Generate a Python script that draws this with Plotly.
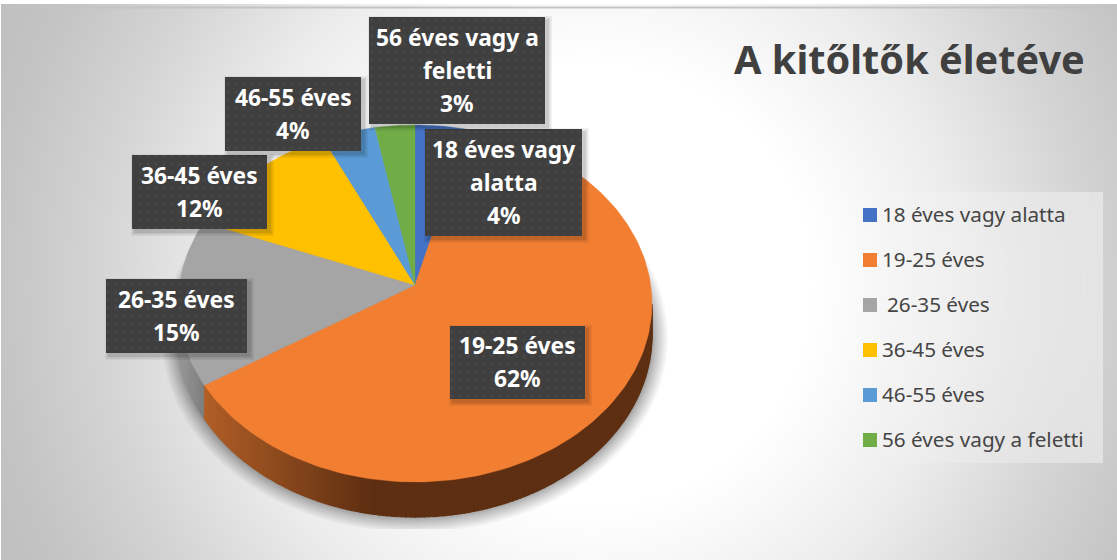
import numpy as np
import plotly.graph_objects as go

# Survey result: respondents by age group
categories = ["18 éves vagy alatta", "19-25 éves", "26-35 éves", "36-45 éves", "46-55 éves", "56 éves vagy a feletti"]
shares = [4, 62, 15, 12, 4, 3]
colors = ["#4472C4", "#F27E32", "#A5A5A5", "#FFC000", "#5B9BD5", "#70AD47"]
title_text = "A kitőltők életéve"
label_lines = [["18 éves vagy", "alatta"], ["19-25 éves"], ["26-35 éves"], ["36-45 éves"], ["46-55 éves"], ["56 éves vagy a", "feletti"]]
# label boxes: left, right, top, bottom in pixels
label_boxes = [(425, 582, 129, 236), (450, 585, 326, 399), (106, 247, 279, 353),
               (132, 267, 155, 229), (225, 361, 77, 151), (369, 545, 17, 124)]

W, H = 1117, 560
FONT = "Noto Sans"

# tilted disc projection
CX, CY, A, B, K = 415.0, 285.0, 235.7, 176.6, 0.1036
DEPTH = 31.4


def rim(theta):
    X, Y = np.sin(theta), np.cos(theta)
    w = 1 + K * Y
    return CX + A * X / w, CY - B * Y / w, w


def lerp(c0, c1, t):
    t = float(np.clip(t, 0, 1))
    return "rgb(%d,%d,%d)" % tuple(round(a + (b - a) * t) for a, b in zip(c0, c1))


fig = go.Figure()

# backdrop radial gradient
gx = np.linspace(5, W, 140)
gy = np.linspace(8, H, 70)
xx, yy = np.meshgrid(gx, gy)
dist = np.hypot(xx - 590, yy - 285)
shade = np.interp(dist, [0, 220, 270, 368, 492, 600, 700], [255, 255, 249, 236, 212, 195, 188])
fig.add_trace(go.Heatmap(x=gx, y=gy, z=shade, zmin=0, zmax=255, zsmooth="best", showscale=False,
                         colorscale=[[0, "#000000"], [1, "#ffffff"]], hoverinfo="skip"))

# soft shadow beneath the disc, denser towards the rim
ang = np.linspace(0, 2 * np.pi, 180)
for grow in 16 * np.linspace(1, 0, 16) ** 1.4:
    sx = 415 + (237 + grow) * np.sin(ang)
    sy = np.minimum(338 + (178.5 + grow) * np.cos(ang), 529)
    fig.add_trace(go.Scatter(x=sx, y=sy, mode="lines", line_width=0, fill="toself",
                             fillcolor="rgba(0,0,0,0.028)", hoverinfo="skip", showlegend=False))

# side wall, shaded along the rim
edges = np.cumsum([0] + shares) / sum(shares) * 2 * np.pi
wall_steps = np.radians(np.arange(96, 266, 1.0))
for t0, t1 in zip(wall_steps[:-1], wall_steps[1:]):
    x0, y0, w0 = rim(t0)
    x1, y1, w1 = rim(t1)
    mid = (t0 + t1) / 2
    xm = (x0 + x1) / 2
    if mid < edges[2]:
        col = lerp((176, 94, 38), (94, 47, 18), (xm - 205) / 165)
    else:
        col = lerp((125, 125, 125), (150, 150, 150), (205 - xm) / 25)
    fig.add_trace(go.Scatter(x=[x0, x1, x1, x0, x0], y=[y0, y1, y1 + DEPTH / w1, y0 + DEPTH / w0, y0],
                             mode="lines", line=dict(width=1.2, color=col), fill="toself", fillcolor=col,
                             hoverinfo="skip", showlegend=False))

# top face slices
for i, cat in enumerate(categories):
    th = np.linspace(edges[i], edges[i + 1], max(int(shares[i] * 3), 6))
    x, y, _ = rim(th)
    fig.add_trace(go.Scatter(x=np.r_[CX, x, CX], y=np.r_[CY, y, CY], mode="lines",
                             line=dict(width=0.4, color=colors[i]), fill="toself", fillcolor=colors[i],
                             name=cat, hoverinfo="name", showlegend=False))

# data label boxes with drop shadow and dotted texture
LINE_STEP = 33
for i, (l, r, t, b) in enumerate(label_boxes):
    for grow, alpha in [(4, 0.05), (2.5, 0.07), (1, 0.09)]:
        fig.add_trace(go.Scatter(x=[l + 3 - grow, r + 3 + grow, r + 3 + grow, l + 3 - grow],
                                 y=[t + 3 - grow, t + 3 - grow, b + 3 + grow, b + 3 + grow],
                                 mode="lines", line_width=0, fill="toself",
                                 fillcolor="rgba(0,0,0,%g)" % alpha, hoverinfo="skip", showlegend=False))
    fig.add_trace(go.Scatter(x=[l, r, r, l], y=[t, t, b, b], mode="lines", line_width=0, fill="toself",
                             fillcolor="#3f3f3f",
                             fillpattern=dict(shape=".", size=8, solidity=0.12, fgcolor="#505050", bgcolor="#3f3f3f"),
                             hoverinfo="skip", showlegend=False))
    rows = label_lines[i] + ["%d%%" % shares[i]]
    for j, row in enumerate(rows):
        fig.add_annotation(x=(l + r) / 2, y=(t + b) / 2 + LINE_STEP * (j - (len(rows) - 1) / 2) - 0.5, text=row,
                           showarrow=False, xanchor="center", yanchor="middle",
                           font=dict(family=FONT, size=22.8, color="#ffffff", weight="bold"))

# legend panel fading in from the left, squares and entries
LEGEND_X, LEGEND_TOP, LEGEND_STEP = 870, 215, 45
px = np.arange(848, 1104, 3.0)
fig.add_trace(go.Heatmap(x=px, y=[192, 463], z=[px[:-1] - 848], zmin=0, zmax=252, showscale=False,
                         colorscale=[[0, "rgba(255,255,255,0)"], [1, "rgba(255,255,255,0.42)"]], hoverinfo="skip"))
fig.add_trace(go.Scatter(x=[LEGEND_X] * len(categories), y=[LEGEND_TOP + LEGEND_STEP * i for i in range(len(categories))],
                         mode="markers", marker=dict(symbol="square", size=14, color=colors, line_width=0),
                         hoverinfo="skip", showlegend=False))
for i, cat in enumerate(categories):
    fig.add_annotation(x=880 + (5 if i == 2 else 0), y=LEGEND_TOP + LEGEND_STEP * i - 1, text=cat, showarrow=False,
                       xanchor="left", yanchor="middle", font=dict(family=FONT, size=20.7, color="#454545"))

fig.add_annotation(x=909.5, y=59, text=title_text, showarrow=False, xanchor="center", yanchor="middle",
                   font=dict(family=FONT, size=39.7, color="#404040", weight="bold"))

fig.update_layout(width=W, height=H, margin=dict(l=0, r=0, t=0, b=0), paper_bgcolor="#ffffff", plot_bgcolor="#ffffff",
                  showlegend=False,
                  xaxis=dict(range=[0, W], visible=False, fixedrange=True),
                  yaxis=dict(range=[H, 0], visible=False, fixedrange=True),
                  shapes=[dict(type="line", xref="x", yref="y", x0=5, x1=W, y0=7.5, y1=7.5,
                               line=dict(color="#c4c4c4", width=2))])
fig.write_html("out.html", config={"displayModeBar": False})
